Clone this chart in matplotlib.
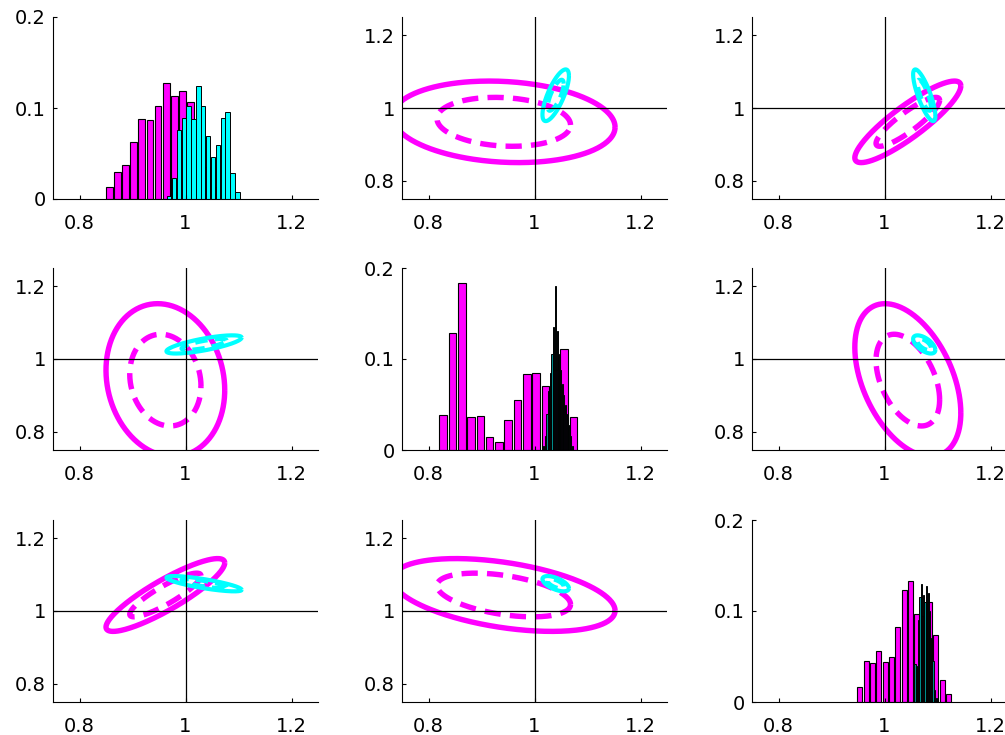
import matplotlib
matplotlib.use("Agg")
import matplotlib.pyplot as plt
import numpy as np

plt.rcParams['font.family'] = ['DejaVu Sans']

MAG = '#ff00ff'
CYA = '#00ffff'

# --- ellipse data (outer half-extent per parameter, correlation per pair) ---
mag_mean = [0.962, 0.942, 1.044]
mag_ext = [0.112, 0.210, 0.100]
mag_rho = {(0, 1): -0.13, (0, 2): 0.88, (1, 2): -0.43}

cya_mean = [1.035, 1.040, 1.075]
cya_ext = [0.071, 0.025, 0.021]
cya_rho = {(0, 1): 0.75, (0, 2): -0.80, (1, 2): -0.60}

inner_scale = 0.6

# --- histogram data (bin start centre, bin step, normalised counts) ---
h0_mag_start, h0_mag_step = 0.856, 0.0154
h0_mag = [0.0136, 0.030, 0.0375, 0.063, 0.0875, 0.0864, 0.102, 0.127, 0.113,
          0.119, 0.107, 0.065, 0.035, 0.013]
h0_cya_start, h0_cya_step = 0.969, 0.0092
h0_cya = [0.0037, 0.0228, 0.0754, 0.0893, 0.1026, 0.0875, 0.124, 0.1018,
          0.0691, 0.046, 0.0588, 0.0893, 0.096, 0.0287, 0.0081]

h1_mag_start, h1_mag_step = 0.8274, 0.0176
h1_mag = [0.0386, 0.1283, 0.1831, 0.0368, 0.0379, 0.0147, 0.0092, 0.0331,
          0.0544, 0.0835, 0.0846, 0.0706, 0.088, 0.1114, 0.0364]
h1_cya_start, h1_cya_step = 1.0175, 0.00315
h1_cya = [0.004, 0.015, 0.04, 0.065, 0.085, 0.105, 0.135, 0.18, 0.131, 0.105,
          0.088, 0.072, 0.06, 0.05, 0.04, 0.028, 0.015, 0.004]

h2_mag_start, h2_mag_step = 0.9534, 0.01195
h2_mag = [0.0161, 0.0447, 0.0425, 0.0564, 0.0436, 0.0495, 0.0828, 0.1234,
          0.1326, 0.0971, 0.094, 0.1099, 0.074, 0.0245, 0.0092]
h2_cya_start, h2_cya_step = 1.0545, 0.0031
h2_cya = [0.035, 0.042, 0.04, 0.09, 0.115, 0.13, 0.118, 0.11, 0.127, 0.12,
          0.1, 0.07, 0.045, 0.013, 0.004]

hists = [
    (h0_mag_start, h0_mag_step, h0_mag, h0_cya_start, h0_cya_step, h0_cya),
    (h1_mag_start, h1_mag_step, h1_mag, h1_cya_start, h1_cya_step, h1_cya),
    (h2_mag_start, h2_mag_step, h2_mag, h2_cya_start, h2_cya_step, h2_cya),
]

# axes layout in pixels
col_left = [53, 402, 752]
row_top = [17, 268, 520]
ax_w, ax_h = 265, 182
W, H = 1005, 735


def ellipse(mean, ext, rho, i, j, scale):
    t = np.linspace(0, 2 * np.pi, 300)
    sx = ext[j] * scale
    sy = ext[i] * scale
    x = mean[j] + sx * np.cos(t)
    y = mean[i] + sy * (rho * np.cos(t) + np.sqrt(1 - rho ** 2) * np.sin(t))
    return x, y


def style_axes(ax):
    ax.spines['top'].set_visible(False)
    ax.spines['right'].set_visible(False)
    for s in ['left', 'bottom']:
        ax.spines[s].set_linewidth(0.8)
    ax.tick_params(direction='in', length=3, width=0.8, labelsize=14)
    ax.tick_params(axis='x', pad=11)
    ax.tick_params(axis='y', pad=5)
    ax.set_xlim(0.75, 1.25)
    ax.set_xticks([0.8, 1.0, 1.2])
    ax.set_xticklabels(['0.8', '1', '1.2'])


fig = plt.figure(figsize=(W / 100, H / 100), dpi=100)

for r in range(3):
    for c in range(3):
        ax = fig.add_axes([col_left[c] / W, 1 - (row_top[r] + ax_h) / H,
                           ax_w / W, ax_h / H])
        style_axes(ax)
        if r == c:
            ms, mstep, mh, cs, cstep, ch = hists[r]
            mx = ms + mstep * np.arange(len(mh))
            cx = cs + cstep * np.arange(len(ch))
            ax.bar(mx, mh, width=mstep * 0.82, color=MAG, edgecolor='black',
                   linewidth=0.8)
            if r == 0:
                ax.bar(cx, ch, width=cstep * 0.9, color=CYA, edgecolor='black',
                       linewidth=0.7)
            else:
                ax.bar(cx, ch, width=cstep * 0.75, color='#008b8b',
                       edgecolor='black', linewidth=0.7)
            ax.set_ylim(0, 0.2)
            ax.set_yticks([0, 0.1, 0.2])
            ax.set_yticklabels(['0', '0.1', '0.2'])
        else:
            key = (min(r, c), max(r, c))
            for mean, ext, rho, col, lw in [
                    (mag_mean, mag_ext, mag_rho[key], MAG, 3.9),
                    (cya_mean, cya_ext, cya_rho[key], CYA, 3.0)]:
                x, y = ellipse(mean, ext, rho, r, c, 1.0)
                ax.plot(x, y, color=col, lw=lw, solid_capstyle='butt')
                x, y = ellipse(mean, ext, rho, r, c, inner_scale)
                ax.plot(x, y, color=col, lw=lw, dashes=(3.0, 1.7),
                        dash_capstyle='butt')
            ax.axhline(1, color='black', lw=0.9, zorder=5)
            ax.axvline(1, color='black', lw=0.9, zorder=5)
            ax.set_ylim(0.75, 1.25)
            ax.set_yticks([0.8, 1.0, 1.2])
            ax.set_yticklabels(['0.8', '1', '1.2'])

fig.savefig('out.png', dpi=100)
